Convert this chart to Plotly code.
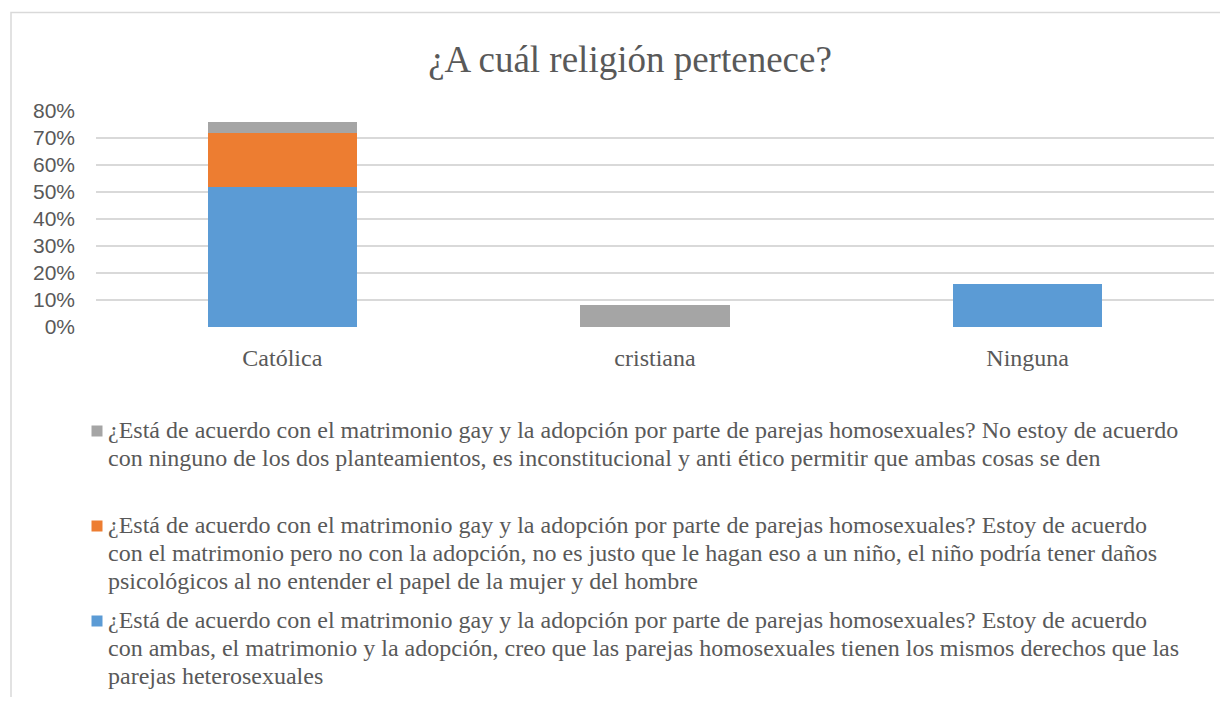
import plotly.graph_objects as go

# page body has an 8px margin, so the figure is laid out in reference pixels minus 8
OFF = 8
W, H = 1212, 689

categories = ["Católica", "cristiana", "Ninguna"]
ambas = [0.52, 0.0, 0.16]
solo_matrimonio = [0.20, 0.0, 0.0]
ninguno = [0.04, 0.08, 0.0]

pregunta = "¿Está de acuerdo con el matrimonio gay y la adopción por parte de parejas homosexuales?"
legend_lines = {
    "ninguno": [pregunta + " No estoy de acuerdo",
                "con ninguno de los dos planteamientos, es inconstitucional y anti ético permitir que ambas cosas se den"],
    "matrimonio": [pregunta + " Estoy de acuerdo",
                   "con el matrimonio pero no con la adopción, no es justo que le hagan eso a un niño, el niño podría tener daños",
                   "psicológicos al no entender el papel de la mujer y del hombre"],
    "ambas": [pregunta + " Estoy de acuerdo",
              "con ambas, el matrimonio y la adopción, creo que las parejas homosexuales tienen los mismos derechos que las",
              "parejas heterosexuales"],
}
colors = {"ambas": "#5B9BD5", "matrimonio": "#ED7D31", "ninguno": "#A5A5A5"}
series = {"ambas": ambas, "matrimonio": solo_matrimonio, "ninguno": ninguno}

serif = "Liberation Serif"
grey_txt = "#595959"


def px(x):
    return (x - OFF) / W


def py(y):
    return 1 - (y - OFF) / H


fig = go.Figure()
for key in ["ambas", "matrimonio", "ninguno"]:
    fig.add_trace(go.Bar(
        x=categories, y=series[key], name=" ".join(legend_lines[key]),
        marker=dict(color=colors[key], line=dict(width=0)),
        showlegend=False, hovertemplate="%{x}: %{y:.0%}<extra></extra>"
    ))

# legend drawn by hand: Excel packs the wrapped lines tighter than plotly's legend can
annotations = []
shapes = []
first_baselines = {"ninguno": 438, "matrimonio": 533, "ambas": 628}
for key in ["ninguno", "matrimonio", "ambas"]:
    b0 = first_baselines[key]
    for i, line in enumerate(legend_lines[key]):
        annotations.append(dict(
            text=line, x=px(106), y=py(b0 + 28 * i - 8), xref="paper", yref="paper",
            xanchor="left", yanchor="middle", showarrow=False,
            font=dict(family=serif, size=24, color=grey_txt)))
    c = b0 - 7
    shapes.append(dict(type="rect", xref="paper", yref="paper",
                       x0=px(91.5), x1=px(102.5), y0=py(c + 5.5), y1=py(c - 5.5),
                       fillcolor=colors[key], line=dict(width=0)))

shapes.append(dict(type="rect", xref="paper", yref="paper",
                   x0=px(11), x1=1.2, y0=-0.2, y1=py(12.5),
                   line=dict(color="#D9D9D9", width=1.5), layer="below"))

fig.update_layout(
    width=W, height=H,
    margin=dict(l=0, r=0, t=0, b=0, autoexpand=False),
    paper_bgcolor="white", plot_bgcolor="white",
    barmode="stack", bargap=0.6, showlegend=False,
    title=dict(text="¿A cuál religión pertenece?", x=px(630), xanchor="center",
               y=py(59.5), yanchor="middle", yref="container",
               font=dict(family=serif, size=37, color=grey_txt)),
    xaxis=dict(domain=[px(96), px(1214)], showgrid=False, showline=False,
               tickfont=dict(family=serif, size=24, color=grey_txt),
               ticklabelstandoff=14),
    yaxis=dict(domain=[py(327), py(111)], range=[0, 0.8], dtick=0.1,
               tickformat=".0%", gridcolor="#D9D9D9", gridwidth=1.5,
               zeroline=False, showline=False,
               tickfont=dict(family="Liberation Sans", size=21, color=grey_txt),
               ticklabelstandoff=20),
    annotations=annotations,
    shapes=shapes,
)

fig.write_html("out.html")
